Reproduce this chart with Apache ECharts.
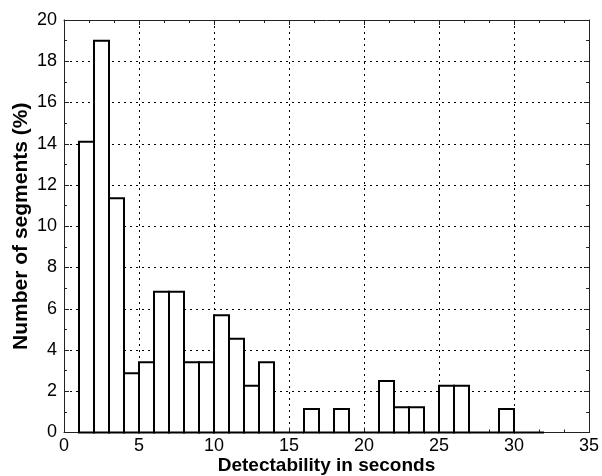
<!DOCTYPE html>
<html>
<head>
<meta charset="utf-8">
<script src="https://cdn.jsdelivr.net/npm/echarts@6/dist/echarts.min.js"></script>
<style>html,body{margin:0;padding:0;background:#fff}#c{width:602px;height:476px}</style>
</head>
<body>
<div id="c"></div>
<script>
// Histogram bins: left edges (seconds), width 1
const binStarts = [1,2,3,4,5,6,7,8,9,10,11,12,13,14,15,16,17,18,19,20,21,22,23,24,25,26,27,28,29,30,31];
const binValues = [14.1,19.0,11.36,2.87,3.41,6.82,6.82,3.41,3.41,5.68,4.55,2.27,3.41,0,0,1.14,0,1.14,0,0,2.5,1.22,1.22,0,2.27,2.27,0,0,1.14,0,0];
const xTicks = [0,5,10,15,20,25,30,35];
const yTicks = [0,2,4,6,8,10,12,14,16,18,20];

const data = binStarts.map((s, i) => [s, s + 1, binValues[i]]);
const font = 'Liberation Sans, Arial, Helvetica, sans-serif';
const chart = echarts.init(document.getElementById('c'), null, {renderer: 'canvas'});

const common = {
  axisLine: {show: true, onZero: false, lineStyle: {color: '#222', width: 1}},
  axisTick: {show: true, inside: true, length: 5, lineStyle: {color: '#222'}},
};
const xMinor = {minorTick: {show: true, splitNumber: 3, length: 3, lineStyle: {color: '#222'}}};
const yMinor = {minorTick: {show: true, splitNumber: 2, length: 3, lineStyle: {color: '#222'}}};

chart.setOption({
  animation: false,
  grid: {left: 64, right: 13, top: 20, bottom: 43.5, containLabel: false, outerBoundsMode: 'none'},
  xAxis: [
    Object.assign({
      type: 'value', min: 0, max: 35, interval: 5, position: 'bottom',
      name: 'Detectability in seconds', nameLocation: 'middle', nameGap: 24, nameMoveOverlap: false,
      nameTextStyle: {color: '#000', fontFamily: font, fontWeight: 'bold', fontSize: 19},
      axisLabel: {color: '#000', fontFamily: font, fontSize: 18, margin: 5,
        formatter: v => xTicks.includes(v) ? String(v) : ''},
      splitLine: {show: true, lineStyle: {color: '#000', type: [2, 4], width: 1}},
    }, common, xMinor),
    Object.assign({
      type: 'value', min: 0, max: 35, interval: 5, position: 'top',
      axisLabel: {show: false}, splitLine: {show: false}
    }, common, xMinor)
  ],
  yAxis: [
    Object.assign({
      type: 'value', min: 0, max: 20, interval: 2, position: 'left',
      name: 'Number of segments (%)', nameLocation: 'middle', nameGap: 32, nameMoveOverlap: false,
      nameTextStyle: {color: '#000', fontFamily: font, fontWeight: 'bold', fontSize: 21},
      axisLabel: {color: '#000', fontFamily: font, fontSize: 18, margin: 7,
        formatter: v => yTicks.includes(v) ? String(v) : ''},
      splitLine: {show: true, lineStyle: {color: '#000', type: [2, 4], width: 1}},
    }, common, yMinor),
    Object.assign({
      type: 'value', min: 0, max: 20, interval: 2, position: 'right',
      axisLabel: {show: false}, splitLine: {show: false}
    }, common, yMinor)
  ],
  series: [{
    type: 'custom',
    xAxisIndex: 0, yAxisIndex: 0,
    data: data,
    encode: {x: [0, 1], y: 2},
    renderItem: function (params, api) {
      const p0 = api.coord([api.value(0), 0]);
      const p1 = api.coord([api.value(1), api.value(2)]);
      if (api.value(2) <= 0) {
        return {type: 'line', shape: {x1: p0[0], y1: p0[1], x2: p1[0], y2: p0[1]},
          style: {stroke: '#000', lineWidth: 2}, z2: 10};
      }
      return {
        type: 'rect',
        shape: {x: p0[0], y: p1[1], width: p1[0] - p0[0], height: p0[1] - p1[1]},
        style: {fill: '#fff', stroke: '#000', lineWidth: 2},
        z2: 10
      };
    }
  }]
});
</script>
</body>
</html>
